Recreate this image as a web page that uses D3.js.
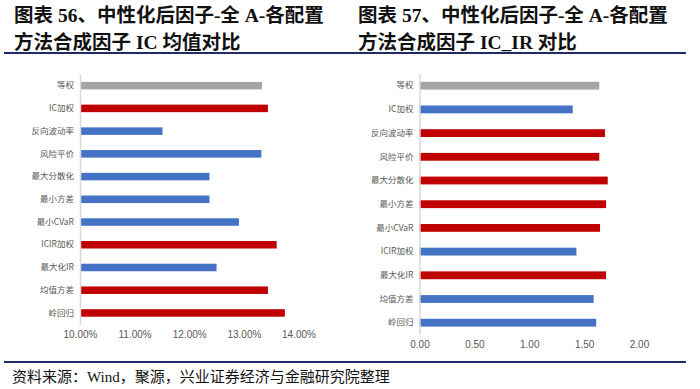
<!DOCTYPE html>
<html>
<head>
<meta charset="utf-8">
<script src="https://cdn.jsdelivr.net/npm/d3@7"></script>
<style>
  html, body { margin: 0; padding: 0; background: #fff; }
  svg { display: block; }
</style>
</head>
<body>
<div id="chart"></div>
<script>
// categories shared by both charts (top to bottom)
const methods = ['等权', 'IC加权', '反向波动率', '风险平价', '最大分散化', '最小方差', '最小CVaR', 'ICIR加权', '最大化IR', '均值方差', '岭回归'];

// left: IC mean (fraction)
const icMean = [0.1333, 0.1344, 0.1151, 0.1332, 0.1237, 0.1237, 0.1291, 0.1360, 0.1250, 0.1344, 0.1375];
const icColors = ['gray', 'red', 'blue', 'blue', 'blue', 'blue', 'blue', 'red', 'blue', 'red', 'red'];
const icTicks = [0.10, 0.11, 0.12, 0.13, 0.14];

// right: IC_IR
const icIR = [1.638, 1.396, 1.690, 1.638, 1.715, 1.700, 1.645, 1.430, 1.700, 1.587, 1.610];
const irColors = ['gray', 'blue', 'red', 'red', 'red', 'red', 'red', 'blue', 'red', 'blue', 'blue'];
const irTicks = [0, 0.5, 1.0, 1.5, 2.0];

const titles = [
  ['图表 56、中性化后因子-全 A-各配置', '方法合成因子 IC 均值对比'],
  ['图表 57、中性化后因子-全 A-各配置', '方法合成因子 IC_IR 对比']
];
const source = '资料来源：Wind，聚源，兴业证券经济与金融研究院整理';

const palette = { gray: '#A5A5A5', red: '#C00000', blue: '#4472C4' };

const width = 700, height = 389;
const svg = d3.select('#chart').append('svg')
  .attr('width', width)
  .attr('height', height);

const titleFont = '"Liberation Serif", "Noto Sans CJK SC", serif';

// titles
titles.forEach((lines, i) => {
  const x0 = i === 0 ? 14 : 358;
  lines.forEach((t, j) => {
    svg.append('text')
      .attr('x', x0)
      .attr('y', 22 + j * 27)
      .style('font-family', titleFont)
      .style('font-size', '19.5px')
      .style('font-weight', 'bold')
      .style('fill', '#111')
      .text(t);
  });
});

// rules
svg.append('line').attr('x1', 4).attr('x2', 686).attr('y1', 53).attr('y2', 53)
  .attr('stroke', '#1F2A66').attr('stroke-width', 2);
svg.append('line').attr('x1', 4).attr('x2', 686).attr('y1', 362).attr('y2', 362)
  .attr('stroke', '#1F2A66').attr('stroke-width', 2);

svg.append('text')
  .attr('x', 12)
  .attr('y', 382)
  .style('font-family', titleFont)
  .style('font-size', '15px')
  .style('fill', '#111')
  .text(source);

function drawPanel(opts) {
  const x = d3.scaleLinear().domain(opts.domain).range(opts.xRange);
  const y = d3.scaleBand().domain(methods).range(opts.yRange)
    .paddingInner(0.67).paddingOuter(0.335);

  const g = svg.append('g');

  g.selectAll('rect.bar')
    .data(methods)
    .enter()
    .append('rect')
    .attr('class', 'bar')
    .attr('x', x(opts.domain[0]))
    .attr('y', d => y(d))
    .attr('width', (d, i) => x(opts.values[i]) - x(opts.domain[0]))
    .attr('height', y.bandwidth())
    .attr('fill', (d, i) => palette[opts.colors[i]]);

  // category axis
  const yAxis = g.append('g')
    .attr('transform', `translate(${x(opts.domain[0])},0)`)
    .call(d3.axisLeft(y).tickSize(0).tickPadding(6));
  yAxis.select('.domain').attr('stroke', '#D9D9D9').attr('stroke-width', 1.5);
  yAxis.selectAll('text')
    .style('font-family', '"Noto Sans CJK SC", sans-serif')
    .style('font-size', '8.5px')
    .style('fill', '#595959');

  // value axis (labels only)
  const xAxis = g.append('g')
    .attr('transform', `translate(0,${opts.tickY})`)
    .call(d3.axisBottom(x).tickValues(opts.ticks).tickFormat(opts.format).tickSize(0).tickPadding(0));
  xAxis.select('.domain').remove();
  xAxis.selectAll('text')
    .style('font-family', opts.tickFont)
    .style('font-size', '10px')
    .style('fill', '#595959');
}

drawPanel({
  values: icMean,
  colors: icColors,
  domain: [0.10, 0.14],
  ticks: icTicks,
  format: d3.format('.2%'),
  xRange: [80, 298.5],
  yRange: [74.3, 324.3],
  tickY: 331,
  tickFont: '"Liberation Sans", Arial, sans-serif'
});

drawPanel({
  values: icIR,
  colors: irColors,
  domain: [0, 2],
  ticks: irTicks,
  format: d3.format('.2f'),
  xRange: [419.5, 639],
  yRange: [73.85, 334.55],
  tickY: 341,
  tickFont: '"Liberation Sans Narrow", "Liberation Sans", Arial, sans-serif'
});
</script>
</body>
</html>
